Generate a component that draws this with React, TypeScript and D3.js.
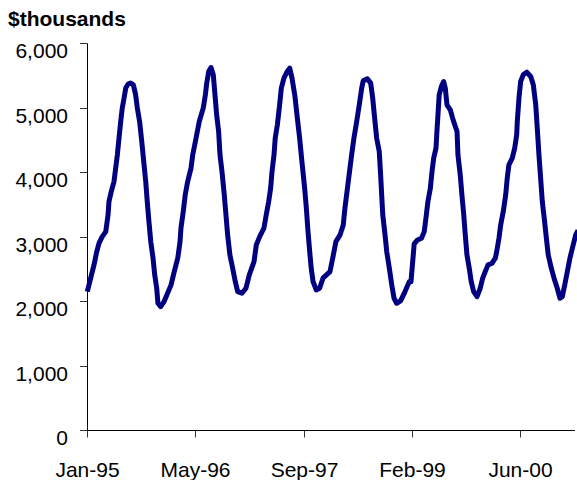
import React from "react";
import * as d3 from "d3";

// Weekly series starting Jan-95 (x = week offset), values in $thousands
const weeks = [
  0.2, 2.4, 4.6, 6.4, 7.9, 10.0, 12.3, 13.8, 14.4, 15.9, 17.7, 18.8, 19.9, 21.0, 22.1, 23.1, 24.3, 25.4, 26.9, 28.6,
  30.4, 31.9, 33.0, 34.5, 35.9, 37.4, 38.5, 39.5, 40.6, 41.8, 43.3, 44.4, 45.7, 46.5, 48.3, 50.5, 51.8, 55.1, 57.2, 59.5,
  61.0, 61.6, 63.1, 64.4, 66.0, 68.2, 69.3, 71.5, 73.6, 76.2, 77.6, 78.5, 79.8, 81.3, 82.8, 83.9, 85.0, 86.3, 87.2, 88.5,
  90.0, 91.1, 92.2, 93.7, 95.5, 97.2, 98.8, 101.6, 104.2, 106.4, 109.5, 111.0, 113.2, 116.0, 117.5, 119.1, 120.4, 121.3, 122.6, 123.4,
  124.8, 126.3, 127.4, 129.1, 131.3, 132.9, 134.4, 136.2, 137.9, 139.4, 140.9, 142.7, 143.8, 144.9, 146.0, 147.0, 148.2, 150.3, 152.5, 154.7,
  159.3, 161.5, 163.2, 165.9, 168.0, 169.1, 170.2, 171.3, 172.4, 173.5, 175.0, 176.8, 178.5, 180.1, 181.1, 183.8, 186.0, 187.3, 188.8, 189.9,
  191.6, 192.5, 193.2, 193.9, 195.4, 196.5, 198.2, 199.8, 201.3, 203.0, 205.6, 208.5, 211.3, 212.4, 213.9, 214.5, 216.7, 219.3, 221.1, 222.2,
  223.5, 225.1, 226.2, 227.3, 228.8, 229.4, 230.1, 230.9, 232.3, 233.8, 234.9, 236.0, 238.2, 239.7, 241.1, 242.6, 243.2, 244.7, 245.8, 247.0,
  248.0, 249.1, 250.6, 251.9, 253.5, 255.7, 257.8, 259.4, 261.1, 262.9, 265.5, 267.7, 268.6, 270.1, 271.2, 272.9, 274.5, 275.5, 276.6, 278.8,
  280.4, 281.7, 282.1, 283.2, 284.3, 286.0, 288.3, 290.9, 292.6, 294.2, 295.2, 296.3, 297.4, 298.5, 300.0, 301.4, 302.4, 304.4, 306.2, 308.3,
  310.1, 311.6, 313.2, 314.9, 316.6, 318.2, 320.4, 321.9,
];

const sales = [
  2148, 2356, 2562, 2769, 2899, 3002, 3079, 3339, 3545, 3700, 3856, 4064, 4270, 4530, 4787, 4995, 5151, 5306, 5368, 5384,
  5357, 5202, 4995, 4787, 4477, 4115, 3856, 3545, 3235, 2924, 2666, 2407, 2200, 1967, 1915, 1993, 2065, 2252, 2458, 2666,
  2924, 3132, 3390, 3649, 3856, 4064, 4270, 4530, 4787, 4995, 5202, 5384, 5564, 5626, 5512, 5202, 4891, 4632, 4270, 4011,
  3649, 3339, 3028, 2717, 2511, 2303, 2148, 2123, 2200, 2407, 2613, 2873, 3002, 3132, 3339, 3545, 3753, 4011, 4270, 4530,
  4736, 5047, 5306, 5461, 5564, 5616, 5461, 5202, 4840, 4530, 4166, 3753, 3443, 3079, 2769, 2511, 2303, 2174, 2200, 2356,
  2458, 2717, 2924, 3028, 3183, 3443, 3649, 3856, 4064, 4270, 4530, 4787, 5047, 5306, 5419, 5450, 5384, 5151, 4787, 4530,
  4322, 3960, 3649, 3339, 3028, 2769, 2511, 2252, 2045, 1967, 2003, 2148, 2303, 2300, 2717, 2888, 2950, 2977, 3079, 3287,
  3545, 3753, 4011, 4219, 4374, 4632, 4891, 5202, 5331, 5409, 5306, 5047, 4969, 4840, 4736, 4632, 4270, 3960, 3649, 3339,
  3028, 2717, 2511, 2303, 2148, 2070, 2200, 2356, 2458, 2562, 2588, 2666, 2769, 2977, 3183, 3390, 3649, 3908, 4115, 4219,
  4374, 4581, 4787, 5151, 5409, 5512, 5554, 5486, 5357, 5047, 4685, 4270, 3908, 3545, 3235, 2924, 2717, 2511, 2356, 2200,
  2045, 2070, 2252, 2458, 2666, 2821, 3028, 3100,
];

const tickWeeks = [0, 71, 142, 213, 284];
const tickLabels = ["Jan-95", "May-96", "Sep-97", "Feb-99", "Jun-00"];
const yTicks = [0, 1000, 2000, 3000, 4000, 5000, 6000];
const unitLabel = "$thousands";

const W = 577;
const H = 480;
const FONT = "'Liberation Sans', Arial, Helvetica, sans-serif";

export default function App() {
  const x = d3.scaleLinear().domain([0, 320]).range([87, 575.1]);
  const y = d3.scaleLinear().domain([0, 6000]).range([430, 43.4]);
  const fmt = d3.format(",");

  const points: [number, number][] = weeks.map((w, i) => [w, sales[i]]);
  const line = d3
    .line<[number, number]>()
    .x((d) => x(d[0]))
    .y((d) => y(d[1]))
    .curve(d3.curveLinear);

  const x0 = Math.round(x(0)) + 0.5;
  const yBase = Math.round(y(0)) + 0.5;

  return (
    <svg
      width={W}
      height={H}
      style={{ position: "absolute", left: 0, top: 0, background: "#fff" }}
      fontFamily={FONT}
    >
      <rect x={0} y={0} width={W} height={H} fill="#fff" />
      <text x={8} y={26} fontSize={21} fontWeight="bold" fill="#000">
        {unitLabel}
      </text>

      {/* Y axis */}
      <line x1={x0} x2={x0} y1={Math.round(y(6000)) + 0.5} y2={yBase} stroke="#000" strokeWidth={1} />
      {yTicks.map((t) => {
        const yy = Math.round(y(t)) + 0.5;
        return (
          <g key={t}>
            <line x1={80} x2={x0} y1={yy} y2={yy} stroke="#333" strokeWidth={1} />
            <text x={68} y={yy + 14} fontSize={21} textAnchor="end" fill="#000">
              {fmt(t)}
            </text>
          </g>
        );
      })}

      {/* X axis */}
      <line x1={x0} x2={575} y1={yBase} y2={yBase} stroke="#000" strokeWidth={1} />
      {tickWeeks.map((w, i) => {
        const xx = Math.round(x(w)) + 0.5;
        return (
          <g key={w}>
            <line x1={xx} x2={xx} y1={yBase} y2={yBase + 7} stroke="#333" strokeWidth={1} />
            <text x={xx} y={476.5} fontSize={21} textAnchor="middle" fill="#000">
              {tickLabels[i]}
            </text>
          </g>
        );
      })}

      {/* Series */}
      <path
        d={line(points) || ""}
        fill="none"
        stroke="#000080"
        strokeWidth={5}
        strokeLinejoin="round"
        strokeLinecap="butt"
      />
    </svg>
  );
}
